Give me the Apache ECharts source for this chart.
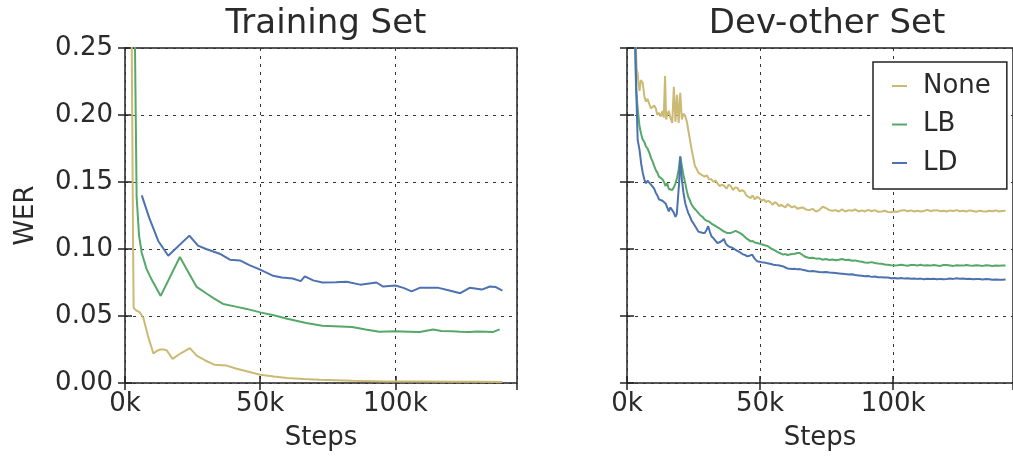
<!DOCTYPE html>
<html>
<head>
<meta charset="utf-8">
<script src="https://cdn.jsdelivr.net/npm/echarts@6/dist/echarts.min.js"></script>
<style>html,body{margin:0;padding:0;background:#fff;}#c{width:1013px;height:456px;}</style>
</head>
<body>
<div id="c"></div>
<script>
// ---- data (steps in thousands, WER) ----
const seriesNames = ['None', 'LB', 'LD'];
const panelTitles = ['Training Set', 'Dev-other Set'];
const yTickValues = [0, 0.05, 0.10, 0.15, 0.20, 0.25];
const xTickValues = [0, 50, 100];

const trainNone = [[2,0.40],[3,0.10],[3.2,0.056],[4.3,0.054],[5.5,0.0527],[6.8,0.0485],[8.5,0.035],[10.5,0.022],[11.8,0.024],[13,0.025],[14.2,0.025],[15.4,0.0244],[17.6,0.018],[20.5,0.022],[24,0.026],[26.5,0.0204],[29.5,0.017],[33,0.0137],[37.6,0.013],[41,0.0108],[45,0.0087],[50,0.0062],[55,0.0048],[60,0.0037],[66,0.003],[72,0.0025],[84,0.0017],[96.7,0.0012],[109,0.0011],[121,0.001],[130,0.0009],[139.6,0.0008]];
const trainLB = [[2.5,0.45],[3.7,0.25],[4.3,0.139],[5.2,0.11],[6.2,0.097],[8,0.085],[9.9,0.077],[13.2,0.065],[20.3,0.094],[26.5,0.0717],[30,0.067],[33,0.063],[36.3,0.059],[41,0.057],[45,0.0553],[50,0.0527],[55,0.0505],[60,0.048],[67,0.0448],[73,0.0428],[84,0.0418],[89,0.040],[94,0.0383],[100,0.0386],[105,0.0383],[109,0.038],[112,0.0392],[114,0.040],[117,0.0388],[121,0.0386],[124,0.0382],[127.5,0.038],[130,0.0385],[133.7,0.0383],[136,0.038],[138.6,0.040]];
const trainLD = [[6.2,0.140],[9,0.123],[12.3,0.106],[16,0.095],[23.8,0.110],[27,0.1025],[30,0.100],[35,0.0965],[38.8,0.092],[42.5,0.0915],[46,0.088],[50,0.0846],[54.8,0.080],[58,0.0788],[62,0.078],[65,0.076],[66.5,0.0796],[69.6,0.0766],[73,0.075],[78,0.0752],[82,0.0756],[87,0.0734],[93,0.075],[95.5,0.072],[100,0.0727],[103,0.071],[106,0.0684],[109,0.071],[116,0.071],[120,0.069],[124,0.067],[127.5,0.071],[132,0.0697],[135,0.072],[137,0.0717],[139.6,0.069]];

const devNone = [[2,0.40],[3,0.27],[3.6,0.235],[4,0.231],[4.4,0.222],[4.7,0.218],[5.2,0.226],[5.9,0.224],[6.5,0.214],[7.1,0.210],[7.7,0.212],[8.4,0.208],[9,0.205],[9.6,0.204],[10.2,0.207],[10.8,0.205],[11.4,0.200],[12,0.2015],[12.7,0.199],[13.3,0.203],[13.8,0.198],[14.3,0.229],[14.7,0.1966],[15.2,0.201],[15.7,0.203],[16.3,0.198],[17,0.194],[17.6,0.221],[18.2,0.195],[18.8,0.215],[19.4,0.194],[20,0.2165],[20.6,0.1966],[21.2,0.201],[21.9,0.199],[22.5,0.195],[23,0.189],[23.7,0.181],[24.3,0.174],[24.9,0.168],[25.5,0.162],[26.1,0.160],[26.8,0.157],[27.5,0.158],[28.3,0.155],[29.2,0.154],[30,0.155],[30.8,0.152],[31.7,0.152],[32.5,0.150],[33.3,0.151],[34,0.149],[34.8,0.147],[35.7,0.148],[36.6,0.147],[37.4,0.145],[38.2,0.148],[39,0.147],[39.8,0.144],[40.7,0.146],[41.5,0.1455],[42.3,0.143],[43.2,0.144],[44,0.143],[44.8,0.140],[45.6,0.139],[46.4,0.138],[47.2,0.140],[48,0.137],[48.9,0.139],[49.7,0.138],[50.5,0.136],[51.4,0.137],[52.2,0.135],[53,0.136],[53.8,0.135],[54.7,0.133],[55.5,0.135],[56.3,0.134],[57.1,0.132],[57.9,0.133],[58.7,0.132],[59.5,0.131],[60.3,0.1335],[61,0.1324],[62,0.131],[63,0.132],[64,0.130],[64.9,0.1306],[66,0.131],[67.2,0.1295],[68.5,0.129],[69.7,0.130],[71,0.128],[72.2,0.129],[73.5,0.1315],[74.7,0.1306],[76,0.129],[77.2,0.1285],[78.4,0.129],[79.6,0.128],[80.8,0.1295],[82,0.128],[83.3,0.129],[84.5,0.1285],[85.7,0.1295],[87,0.128],[88.2,0.1288],[89.4,0.128],[90.6,0.1292],[91.9,0.1282],[93.1,0.129],[94.3,0.1278],[95.6,0.128],[96.8,0.1286],[98,0.1276],[99.2,0.1274],[100.5,0.128],[101.7,0.1278],[103,0.1288],[104.2,0.129],[105.4,0.1282],[106.6,0.1288],[107.9,0.128],[109.1,0.1286],[110.3,0.128],[111.5,0.1284],[112.8,0.1292],[114,0.1284],[115.2,0.1288],[116.5,0.129],[117.7,0.1282],[118.9,0.1286],[120.1,0.128],[121.4,0.1288],[122.6,0.1284],[123.8,0.129],[125,0.1282],[126.3,0.1286],[127.5,0.128],[128.7,0.1288],[130,0.1284],[131.2,0.1278],[132.4,0.1286],[133.6,0.1282],[134.9,0.128],[136.1,0.1286],[137.3,0.1282],[138.5,0.1288],[139.8,0.128],[141,0.1284],[142.2,0.1286]];
const devLB = [[2,0.40],[3,0.26],[3.4,0.219],[4,0.205],[4.7,0.1916],[5.3,0.186],[5.9,0.1816],[6.5,0.180],[7.1,0.1766],[7.7,0.175],[8.4,0.1717],[9,0.168],[9.6,0.1654],[10.2,0.162],[10.8,0.159],[11.4,0.157],[12,0.154],[12.7,0.155],[13.3,0.152],[13.9,0.150],[14.5,0.147],[15.1,0.149],[15.7,0.1448],[16.3,0.146],[17,0.144],[17.6,0.146],[18.2,0.149],[18.8,0.153],[19.4,0.159],[20,0.169],[20.6,0.162],[21.2,0.155],[21.9,0.149],[22.5,0.143],[23,0.139],[23.7,0.136],[24.3,0.133],[25,0.131],[25.9,0.129],[26.8,0.127],[27.6,0.125],[28.4,0.124],[29.2,0.122],[30,0.121],[30.8,0.1205],[31.7,0.119],[32.5,0.118],[33.3,0.117],[34,0.1157],[35,0.115],[35.8,0.1138],[36.6,0.113],[37.5,0.112],[38.2,0.1125],[39,0.112],[40,0.1128],[40.8,0.1135],[41.5,0.113],[42.3,0.112],[43.2,0.111],[44,0.1095],[44.8,0.108],[45.6,0.107],[46.4,0.1057],[47.2,0.106],[48,0.1048],[48.9,0.1045],[49.7,0.104],[50.5,0.1035],[51.4,0.103],[52.2,0.1025],[53,0.102],[53.8,0.1008],[54.7,0.0998],[55.5,0.099],[56.3,0.098],[57.1,0.0972],[57.9,0.0965],[58.7,0.0958],[59.5,0.0962],[60.3,0.0955],[61,0.0958],[62,0.0962],[63,0.0965],[64,0.097],[64.9,0.097],[66,0.0955],[67.2,0.094],[68.5,0.0933],[69.7,0.0935],[71,0.0928],[72.2,0.093],[73.5,0.092],[74.7,0.0925],[76,0.0918],[77.2,0.0922],[78.4,0.0916],[79.6,0.092],[80.8,0.0925],[82,0.0918],[83.3,0.092],[84.5,0.0912],[85.7,0.0915],[87,0.0908],[88.2,0.0905],[89.4,0.090],[90.6,0.0898],[91.9,0.0902],[93.1,0.0895],[94.3,0.0892],[95.6,0.089],[96.8,0.0885],[98,0.0882],[99.2,0.0878],[100.5,0.0876],[101.7,0.0878],[103,0.0882],[104.2,0.0878],[105.4,0.0875],[106.6,0.088],[107.9,0.088],[109.1,0.0877],[110.3,0.0882],[111.5,0.0876],[112.8,0.0879],[114,0.0876],[115.2,0.0881],[116.5,0.0877],[117.7,0.0874],[118.9,0.088],[120.1,0.088],[121.4,0.0877],[122.6,0.0874],[123.8,0.0879],[125,0.0876],[126.3,0.0876],[127.5,0.0881],[128.7,0.0877],[130,0.0875],[131.2,0.0879],[132.4,0.0876],[133.6,0.0874],[134.9,0.0878],[136.1,0.0876],[137.3,0.0873],[138.5,0.0877],[139.8,0.0875],[141,0.0876],[142.2,0.0877]];
const devLD = [[2,0.40],[3,0.26],[3.6,0.21],[4,0.1816],[4.7,0.174],[5.3,0.164],[5.9,0.157],[6.5,0.152],[7.1,0.149],[7.7,0.151],[8.4,0.150],[9,0.148],[9.6,0.147],[10.2,0.145],[10.8,0.142],[11.4,0.140],[12,0.137],[12.7,0.138],[13.3,0.136],[13.9,0.135],[14.5,0.134],[15.1,0.131],[15.7,0.128],[16.3,0.131],[17,0.129],[17.6,0.127],[18.2,0.124],[18.7,0.126],[19.2,0.127],[19.6,0.150],[20,0.169],[20.3,0.16],[20.6,0.152],[21.2,0.142],[21.9,0.134],[22.5,0.130],[23,0.127],[23.7,0.124],[24.3,0.121],[25,0.119],[25.9,0.116],[26.8,0.113],[27.6,0.1125],[28.4,0.112],[29.2,0.112],[29.8,0.114],[30.5,0.117],[31.1,0.113],[31.7,0.1095],[32.5,0.108],[33.3,0.106],[34,0.1045],[34.8,0.105],[35.6,0.106],[36.4,0.1075],[37.1,0.104],[37.8,0.1025],[38.6,0.1015],[39.5,0.101],[40.3,0.100],[41.1,0.099],[42,0.098],[42.8,0.097],[43.6,0.096],[44.4,0.0955],[45.2,0.0945],[46.1,0.095],[47,0.0958],[47.9,0.093],[48.9,0.0908],[49.7,0.0905],[50.5,0.0902],[51.4,0.090],[52.3,0.0895],[53.2,0.0892],[54.1,0.0888],[55,0.0883],[55.9,0.088],[56.8,0.0878],[57.7,0.0875],[58.7,0.087],[59.5,0.0862],[60.3,0.0855],[61,0.0846],[62,0.085],[63,0.0852],[64,0.0848],[64.9,0.085],[66,0.0845],[67.2,0.084],[68.5,0.0833],[69.7,0.0835],[71,0.0832],[72.2,0.0828],[73.5,0.0826],[74.7,0.0828],[76,0.0824],[77.2,0.0822],[78.4,0.082],[79.6,0.0818],[80.8,0.0816],[82,0.0813],[83.3,0.081],[84.5,0.0812],[85.7,0.0806],[87,0.0803],[88.2,0.080],[89.4,0.0796],[90.6,0.0798],[91.9,0.0792],[93.1,0.0794],[94.3,0.079],[95.6,0.079],[96.8,0.0787],[98,0.0788],[99.2,0.0782],[100.5,0.0784],[101.7,0.078],[103,0.0783],[104.2,0.0779],[105.4,0.0782],[106.6,0.0778],[107.9,0.078],[109.1,0.0777],[110.3,0.0779],[111.5,0.0775],[112.8,0.0778],[114,0.0776],[115.2,0.0778],[116.5,0.0774],[117.7,0.0777],[118.9,0.0775],[120.1,0.0776],[121.4,0.0779],[122.6,0.0777],[123.8,0.0781],[125,0.0778],[126.3,0.078],[127.5,0.0776],[128.7,0.0778],[130,0.0775],[131.2,0.0777],[132.4,0.0776],[133.6,0.0773],[134.9,0.0776],[136.1,0.0774],[137.3,0.0771],[138.5,0.0773],[139.8,0.077],[141,0.0771],[142.2,0.0772]];

// ---- styling ----
const FONT = 'DejaVu Sans';
const TXT = '#2a2a2a';
const colors = { None: '#CCB974', LB: '#55A868', LD: '#4C72B0' };
const X_MAX = 145000;

const chart = echarts.init(document.getElementById('c'), null, { renderer: 'canvas' });

const grids = [
  { left: 125, top: 48, width: 392, height: 337 },
  { left: 627, top: 48, width: 394, height: 337 }
];

function xAx(gi, primary) {
  return {
    type: 'value', gridIndex: gi, min: 0, max: X_MAX, interval: 50000,
    position: primary ? 'bottom' : 'top',
    name: primary ? 'Steps' : '', nameLocation: 'middle', nameGap: 42,
    nameTextStyle: { fontFamily: FONT, fontSize: 26, color: TXT },
    axisLine: { show: false },
    axisTick: { show: true, inside: true, length: 7, lineStyle: { color: '#222', width: 1.5 } },
    axisLabel: {
      show: primary, fontFamily: FONT, fontSize: 26, color: TXT, margin: 8,
      showMaxLabel: false,
      formatter: v => (xTickValues.indexOf(v / 1000) >= 0 ? (v / 1000) + 'k' : '')
    },
    splitLine: { show: primary, lineStyle: { color: '#333', width: 1, type: [3, 5] } }
  };
}
function yAx(gi, primary, labels) {
  return {
    type: 'value', gridIndex: gi, min: 0, max: 0.25, interval: 0.05,
    position: primary ? 'left' : 'right',
    name: labels ? 'WER' : '', nameLocation: 'middle', nameGap: 86,
    nameTextStyle: { fontFamily: FONT, fontSize: 26, color: TXT },
    axisLine: { show: false },
    axisTick: { show: true, inside: true, length: 7, lineStyle: { color: '#222', width: 1.5 } },
    axisLabel: {
      show: labels, fontFamily: FONT, fontSize: 26, color: TXT, margin: 12,
      formatter: v => (yTickValues.some(t => Math.abs(t - v) < 1e-9) ? v.toFixed(2) : '')
    },
    splitLine: { show: primary, lineStyle: { color: '#333', width: 1, type: [3, 5] } }
  };
}

const toData = arr => arr.map(p => [p[0] * 1000, p[1]]);
const panels = [
  { None: trainNone, LB: trainLB, LD: trainLD },
  { None: devNone, LB: devLB, LD: devLD }
];
const series = [];
panels.forEach((p, gi) => {
  seriesNames.forEach(n => {
    series.push({
      name: n, type: 'line', xAxisIndex: gi * 2, yAxisIndex: gi * 2,
      data: toData(p[n]), showSymbol: false, symbol: 'none', clip: true,
      lineStyle: { color: colors[n], width: 2 }, itemStyle: { color: colors[n] },
      animation: false
    });
  });
});

chart.setOption({
  animation: false,
  backgroundColor: '#fff',
  title: panelTitles.map((t, i) => ({
    text: t, left: grids[i].left + grids[i].width / 2 - (i === 1 ? 2 : 0), top: 2, textAlign: 'center',
    textStyle: { fontFamily: FONT, fontSize: 34, fontWeight: 'normal', color: TXT }
  })),
  grid: grids.map(g => Object.assign({ show: true, borderColor: '#222', borderWidth: 1.5, backgroundColor: 'transparent' }, g)),
  xAxis: [xAx(0, true), xAx(0, false), xAx(1, true), xAx(1, false)],
  yAxis: [yAx(0, true, true), yAx(0, false, false), yAx(1, true, false), yAx(1, false, false)],
  legend: {
    data: seriesNames, orient: 'vertical', left: 873, top: 62,
    padding: [11, 16, 13, 19], itemGap: 12.5, itemWidth: 15, itemHeight: 2, icon: 'rect',
    backgroundColor: '#fff', borderColor: '#222', borderWidth: 1.5,
    selectedMode: false,
    textStyle: { fontFamily: FONT, fontSize: 26, color: TXT, padding: [0, 0, 0, 11] }
  },
  series: series
});
</script>
</body>
</html>
